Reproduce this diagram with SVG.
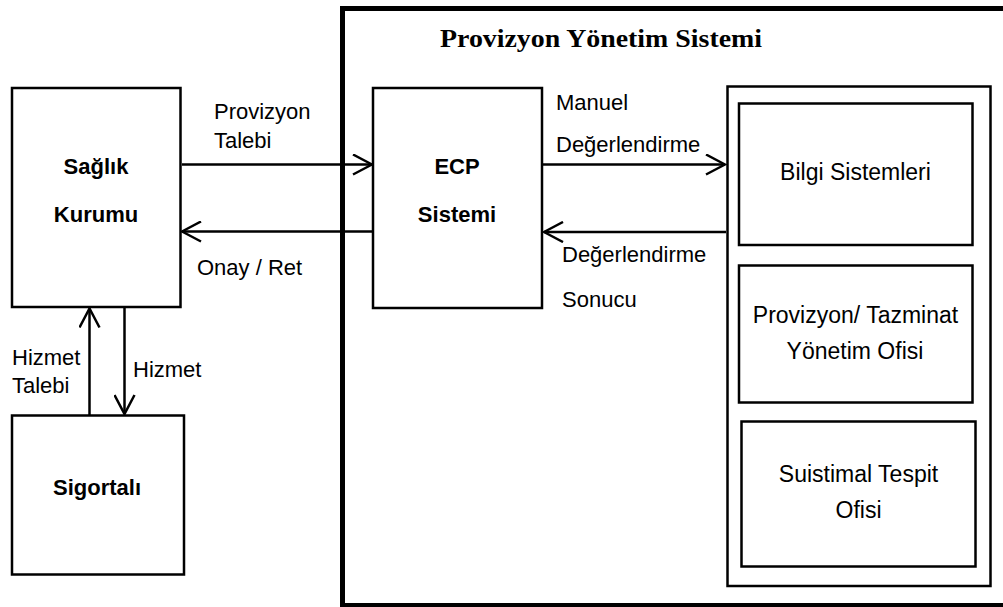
<svg xmlns="http://www.w3.org/2000/svg" width="1003" height="607" viewBox="0 0 1003 607">
<style>
.box{fill:#fff;stroke:#000;stroke-width:2.5}
.thick{fill:none;stroke:#000;stroke-width:5}
.lbl{font-family:"Liberation Sans",Arial,sans-serif;font-size:22px;fill:#000}
.b{font-weight:bold}
.c{text-anchor:middle}
.title{font-family:"Liberation Serif","Times New Roman",serif;font-size:26px;font-weight:bold;fill:#000}
.conn{fill:none;stroke:#000;stroke-width:2.5}
</style>
<defs>
<marker id="arr" viewBox="0 0 22 22" refX="20" refY="11" markerWidth="22" markerHeight="22" markerUnits="userSpaceOnUse" orient="auto">
<path d="M1,1 L20,11 L1,21" fill="none" stroke="#000" stroke-width="2.5"/>
</marker>
</defs>
<g id="provizyon-yonetim-sistemi">
<rect class="thick" x="342.5" y="8.5" width="670" height="597"/>
<text class="title" x="440" y="47" textLength="322" lengthAdjust="spacingAndGlyphs">Provizyon Yönetim Sistemi</text>
</g>
<g id="saglik-kurumu">
<rect class="box" x="12" y="88" width="168.5" height="219"/>
<text class="lbl b c" x="96" y="174">Sağlık</text>
<text class="lbl b c" x="96" y="222">Kurumu</text>
</g>
<g id="sigortali">
<rect class="box" x="12" y="415.5" width="172" height="159"/>
<text class="lbl b c" x="97" y="495">Sigortalı</text>
</g>
<g id="ecp-sistemi">
<rect class="box" x="373" y="88" width="169" height="220"/>
<text class="lbl b c" x="457" y="174">ECP</text>
<text class="lbl b c" x="457" y="222">Sistemi</text>
</g>
<g id="birimler">
<rect class="box" x="727.5" y="86.5" width="263" height="499.5"/>
</g>
<g id="bilgi-sistemleri">
<rect class="box" x="739" y="103.5" width="233.5" height="141.5"/>
<text class="lbl c" x="855.5" y="180" style="font-size:23px">Bilgi Sistemleri</text>
</g>
<g id="provizyon-tazminat">
<rect class="box" x="739" y="265.5" width="233.5" height="137"/>
<text class="lbl c" x="855.5" y="323" style="font-size:23px">Provizyon/ Tazminat</text>
<text class="lbl c" x="855" y="359" style="font-size:23px">Yönetim Ofisi</text>
</g>
<g id="suistimal-tespit">
<rect class="box" x="741.5" y="421.5" width="234" height="145"/>
<text class="lbl c" x="858.5" y="482" style="font-size:23px">Suistimal Tespit</text>
<text class="lbl c" x="858.5" y="518" style="font-size:23px">Ofisi</text>
</g>
<g id="connectors">
<path class="conn" d="M182,164.5 H372" marker-end="url(#arr)"/>
<path class="conn" d="M373,231.5 H182" marker-end="url(#arr)"/>
<path class="conn" d="M543,164.5 H725" marker-end="url(#arr)"/>
<path class="conn" d="M726,232 H544" marker-end="url(#arr)"/>
<path class="conn" d="M89.5,415 V308.5" marker-end="url(#arr)"/>
<path class="conn" d="M124.5,307 V414" marker-end="url(#arr)"/>
<text class="lbl" x="214" y="119">Provizyon</text>
<text class="lbl" x="214" y="148">Talebi</text>
<text class="lbl" x="197" y="275">Onay / Ret</text>
<text class="lbl" x="556" y="110">Manuel</text>
<text class="lbl" x="556" y="152">Değerlendirme</text>
<text class="lbl" x="562" y="262">Değerlendirme</text>
<text class="lbl" x="562" y="307">Sonucu</text>
<text class="lbl" x="12" y="365">Hizmet</text>
<text class="lbl" x="12" y="393">Talebi</text>
<text class="lbl" x="133" y="377">Hizmet</text>
</g>
</svg>
